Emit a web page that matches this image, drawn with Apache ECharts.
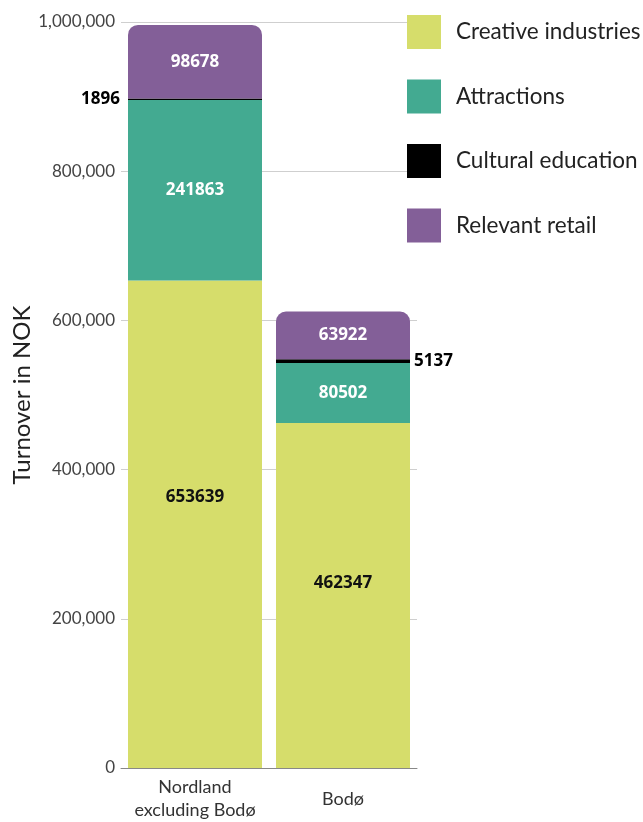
<!DOCTYPE html>
<html>
<head>
<meta charset="utf-8">
<script src="https://cdn.jsdelivr.net/npm/echarts@6/dist/echarts.min.js"></script>
<style>
  html, body { margin: 0; padding: 0; background: #fff; }
  #chart { width: 643px; height: 822px; }
</style>
</head>
<body>
<div id="chart"></div>
<script>
// Turnover by sector, stacked per region
const categories = ['Nordland\nexcluding Bodø', 'Bodø'];
const creativeIndustries = [653639, 462347];
const attractions = [241863, 80502];
const culturalEducation = [1896, 5137];
const relevantRetail = [98678, 63922];
const yTicks = [0, 200000, 400000, 600000, 800000, 1000000];

const colors = {
  creative: '#d6dd6b',
  attractions: '#43aa91',
  education: '#000000',
  retail: '#835f98'
};

const textFont = 'Lato';
const valueFont = 'Open Sans';

function valueLabel(color) {
  return {
    show: true,
    position: 'inside',
    color: color,
    fontFamily: valueFont,
    fontWeight: 'bold',
    fontSize: 17
  };
}

// the large segment labels sit a little above the segment centre
const creativeLabelShift = [-27, -12];

const chart = echarts.init(document.getElementById('chart'));
chart.setOption({
  animation: false,
  legend: {
    orient: 'vertical',
    left: 402,
    top: 10,
    itemWidth: 34,
    itemHeight: 34,
    itemGap: 30.5,
    icon: 'rect',
    textStyle: { fontFamily: textFont, fontSize: 22.5, color: '#222', padding: [0, 0, 0, 10] },
    data: ['Creative industries', 'Attractions', 'Cultural education', 'Relevant retail']
  },
  grid: { left: 121, right: 226, top: 22, bottom: 50, containLabel: false },
  xAxis: {
    type: 'category',
    data: categories,
    axisLine: { show: true, lineStyle: { color: '#888', width: 1 } },
    axisTick: { show: false },
    axisLabel: {
      fontFamily: textFont,
      fontSize: 18,
      color: '#333',
      lineHeight: 23,
      verticalAlign: 'middle',
      margin: 31,
      interval: 0
    }
  },
  yAxis: {
    type: 'value',
    min: yTicks[0],
    max: yTicks[yTicks.length - 1],
    interval: 200000,
    name: 'Turnover in NOK',
    nameLocation: 'middle',
    nameGap: 86,
    nameTextStyle: { fontFamily: textFont, fontSize: 24, color: '#222' },
    axisLine: { show: false },
    axisTick: { show: false },
    splitLine: { lineStyle: { color: '#cfcfcf', width: 1 } },
    axisLabel: {
      margin: 6,
      fontFamily: textFont,
      fontSize: 17,
      color: '#444',
      formatter: v => v.toLocaleString('en-US')
    }
  },
  series: [
    {
      name: 'Creative industries',
      type: 'bar',
      stack: 'total',
      barWidth: 134,
      itemStyle: { color: colors.creative },
      data: creativeIndustries.map((v, i) => ({
        value: v,
        label: Object.assign(valueLabel('#111'), { offset: [0, creativeLabelShift[i]] })
      }))
    },
    {
      name: 'Attractions',
      type: 'bar',
      stack: 'total',
      itemStyle: { color: colors.attractions },
      label: valueLabel('#fff'),
      data: attractions
    },
    {
      name: 'Cultural education',
      type: 'bar',
      stack: 'total',
      itemStyle: { color: colors.education },
      data: culturalEducation.map((v, i) => ({
        value: v,
        label: Object.assign(valueLabel('#000'), {
          position: i === 0 ? 'left' : 'right',
          distance: i === 0 ? 8 : 4
        })
      }))
    },
    {
      name: 'Relevant retail',
      type: 'bar',
      stack: 'total',
      itemStyle: { color: colors.retail, borderRadius: [10, 10, 0, 0] },
      label: valueLabel('#fff'),
      data: relevantRetail
    }
  ]
});
</script>
</body>
</html>
